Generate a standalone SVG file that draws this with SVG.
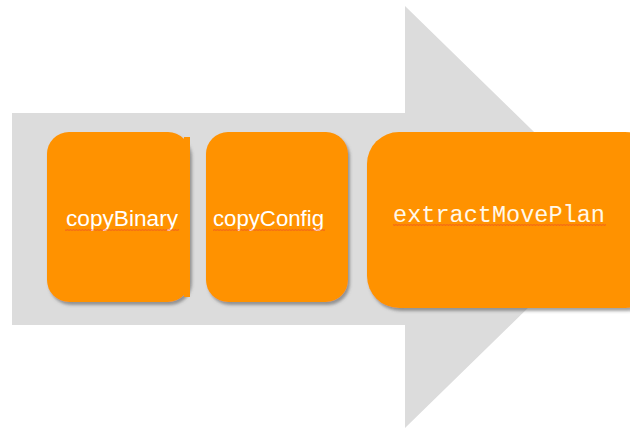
<svg xmlns="http://www.w3.org/2000/svg" width="630" height="428" viewBox="0 0 630 428">
<defs>
<filter id="sh" x="-10%" y="-10%" width="130%" height="130%">
<feDropShadow dx="2" dy="3" stdDeviation="1.5" flood-color="#555" flood-opacity="0.55"/>
</filter>
<pattern id="sq" width="3" height="2" patternUnits="userSpaceOnUse">
<path d="M0 1.8 L0.75 0.3 L1.5 1.8 L2.25 0.3 L3 1.8" fill="none" stroke="#e8402a" stroke-width="0.5" stroke-opacity="0.8"/>
</pattern>
</defs>
<style>
.box{fill:#FF9200;filter:url(#sh)}
.t{fill:#fff;font-family:"Liberation Sans",Arial,sans-serif;font-size:22px}
.m{fill:#fff8ea;font-family:"Liberation Mono","Courier New",monospace;font-size:23.5px}
</style>
<rect width="630" height="428" fill="#fff"/>
<polygon points="12,113 405,113 405,6 621,217 405,428 405,325 12,325" fill="#DCDCDC"/>
<g id="connectors"></g>
<g id="copyBinary">
<rect class="box" x="47" y="132" width="143" height="170" rx="22"/>
<rect x="184" y="137" width="6" height="160" fill="#FF9200"/>
<text class="t" x="66" y="226" textLength="112" lengthAdjust="spacingAndGlyphs">copyBinary</text>
<rect x="65" y="229" width="114" height="2" fill="url(#sq)"/>
</g>
<g id="copyConfig">
<rect class="box" x="206" y="132" width="142" height="170" rx="22"/>
<text class="t" x="213" y="226" textLength="111" lengthAdjust="spacingAndGlyphs">copyConfig</text>
<rect x="213" y="229" width="112" height="2" fill="url(#sq)"/>
</g>
<g id="extractMovePlan">
<rect class="box" x="367" y="132" width="290" height="176" rx="32"/>
<text class="m" x="393" y="222" textLength="212" lengthAdjust="spacingAndGlyphs">extractMovePlan</text>
<rect x="393" y="224" width="213" height="2" fill="url(#sq)"/>
</g>
</svg>
